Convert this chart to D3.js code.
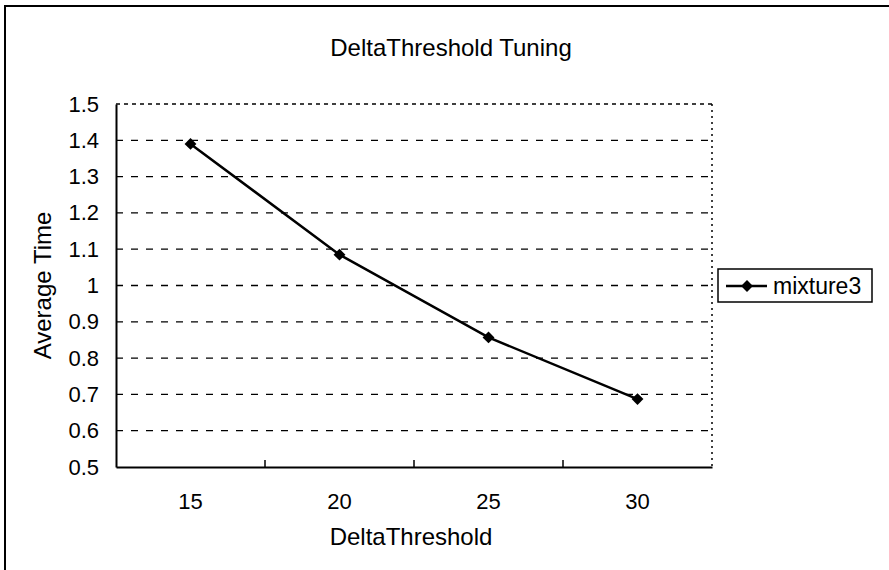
<!DOCTYPE html>
<html>
<head>
<meta charset="utf-8">
<script src="https://cdn.jsdelivr.net/npm/d3@7"></script>
<style>
  body { margin: 0; background: #fff; }
  text { font-family: "Liberation Sans", Arial, sans-serif; fill: #000; }
</style>
</head>
<body>
<div id="chart"></div>
<script>
// chart data
const categories = ["15", "20", "25", "30"];
const mixture3 = [1.39, 1.085, 0.857, 0.687];
const yTicks = [0.5, 0.6, 0.7, 0.8, 0.9, 1.0, 1.1, 1.2, 1.3, 1.4, 1.5];
const seriesName = "mixture3";

const W = 889, H = 570;
const plot = {left: 116, top: 104, right: 712, bottom: 467};

const svg = d3.select("#chart")
  .append("svg")
    .attr("width", W)
    .attr("height", H);

// outer frame (only top and left edges show in the scan)
svg.append("path")
  .attr("d", `M5,${H} L5,6 L${W},6`)
  .attr("fill", "none")
  .attr("stroke", "#000")
  .attr("stroke-width", 2);

const x = d3.scaleBand()
  .domain(categories)
  .range([plot.left, plot.right]);

const y = d3.scaleLinear()
  .domain([0.5, 1.5])
  .range([plot.bottom, plot.top]);

// dashed gridlines
svg.append("g")
  .selectAll("line")
  .data(yTicks.filter(d => d > 0.5 && d < 1.5))
  .join("line")
    .attr("x1", plot.left)
    .attr("x2", plot.right)
    .attr("y1", d => y(d))
    .attr("y2", d => y(d))
    .attr("stroke", "#000")
    .attr("stroke-width", 1.3)
    .attr("stroke-dasharray", "7,8");

// top and right edges of plot area, dotted
svg.append("line")
  .attr("x1", plot.left).attr("x2", plot.right)
  .attr("y1", plot.top).attr("y2", plot.top)
  .attr("stroke", "#000").attr("stroke-width", 1.5)
  .attr("stroke-dasharray", "4,4");
svg.append("line")
  .attr("x1", plot.right).attr("x2", plot.right)
  .attr("y1", plot.top).attr("y2", plot.bottom)
  .attr("stroke", "#000").attr("stroke-width", 1.5)
  .attr("stroke-dasharray", "2,4");

// y axis
const yAxis = svg.append("g")
  .attr("transform", `translate(${plot.left},0)`)
  .call(d3.axisLeft(y)
    .tickValues(yTicks)
    .tickSize(0)
    .tickPadding(17)
    .tickFormat(d => String(+d.toFixed(1))));
yAxis.select(".domain").attr("stroke", "#000").attr("stroke-width", 2);
yAxis.selectAll("text")
  .attr("font-size", 22)
  .attr("font-family", "Liberation Sans, Arial, sans-serif");

// x axis: ticks between categories, pointing inward
const xAxis = svg.append("g")
  .attr("transform", `translate(0,${plot.bottom})`)
  .call(d3.axisBottom(x).tickSize(0).tickPadding(26));
xAxis.select(".domain").attr("stroke", "#000").attr("stroke-width", 2);
xAxis.selectAll("text")
  .attr("font-size", 22)
  .attr("font-family", "Liberation Sans, Arial, sans-serif");

svg.append("g")
  .selectAll("line")
  .data(categories.slice(1))
  .join("line")
    .attr("x1", d => x(d))
    .attr("x2", d => x(d))
    .attr("y1", plot.bottom)
    .attr("y2", plot.bottom - 7)
    .attr("stroke", "#000")
    .attr("stroke-width", 1.5);

// series line
const line = d3.line()
  .x((d, i) => x(categories[i]) + x.bandwidth() / 2)
  .y(d => y(d));

svg.append("path")
  .datum(mixture3)
  .attr("d", line)
  .attr("fill", "none")
  .attr("stroke", "#000")
  .attr("stroke-width", 2.5);

const diamond = d3.symbol().type(d3.symbolDiamond2).size(90);

svg.append("g")
  .selectAll("path")
  .data(mixture3)
  .join("path")
    .attr("d", diamond)
    .attr("transform", (d, i) => `translate(${x(categories[i]) + x.bandwidth() / 2},${y(d)})`)
    .attr("fill", "#000");

// titles
svg.append("text")
  .attr("x", 451)
  .attr("y", 56)
  .attr("text-anchor", "middle")
  .attr("font-size", 24)
  .text("DeltaThreshold Tuning");

svg.append("text")
  .attr("x", 411)
  .attr("y", 545)
  .attr("text-anchor", "middle")
  .attr("font-size", 24)
  .text("DeltaThreshold");

svg.append("text")
  .attr("transform", `translate(51,${(plot.top + plot.bottom) / 2}) rotate(-90)`)
  .attr("text-anchor", "middle")
  .attr("font-size", 24)
  .text("Average Time");

// legend
const legend = svg.append("g").attr("transform", "translate(718,269)");
legend.append("rect")
  .attr("width", 154)
  .attr("height", 33)
  .attr("fill", "#fff")
  .attr("stroke", "#000")
  .attr("stroke-width", 1.5);
legend.append("line")
  .attr("x1", 8).attr("x2", 49)
  .attr("y1", 17).attr("y2", 17)
  .attr("stroke", "#000")
  .attr("stroke-width", 2.5);
legend.append("path")
  .attr("d", diamond)
  .attr("transform", "translate(29,17)")
  .attr("fill", "#000");
legend.append("text")
  .attr("x", 55)
  .attr("y", 25)
  .attr("font-size", 23)
  .text(seriesName);
</script>
</body>
</html>
